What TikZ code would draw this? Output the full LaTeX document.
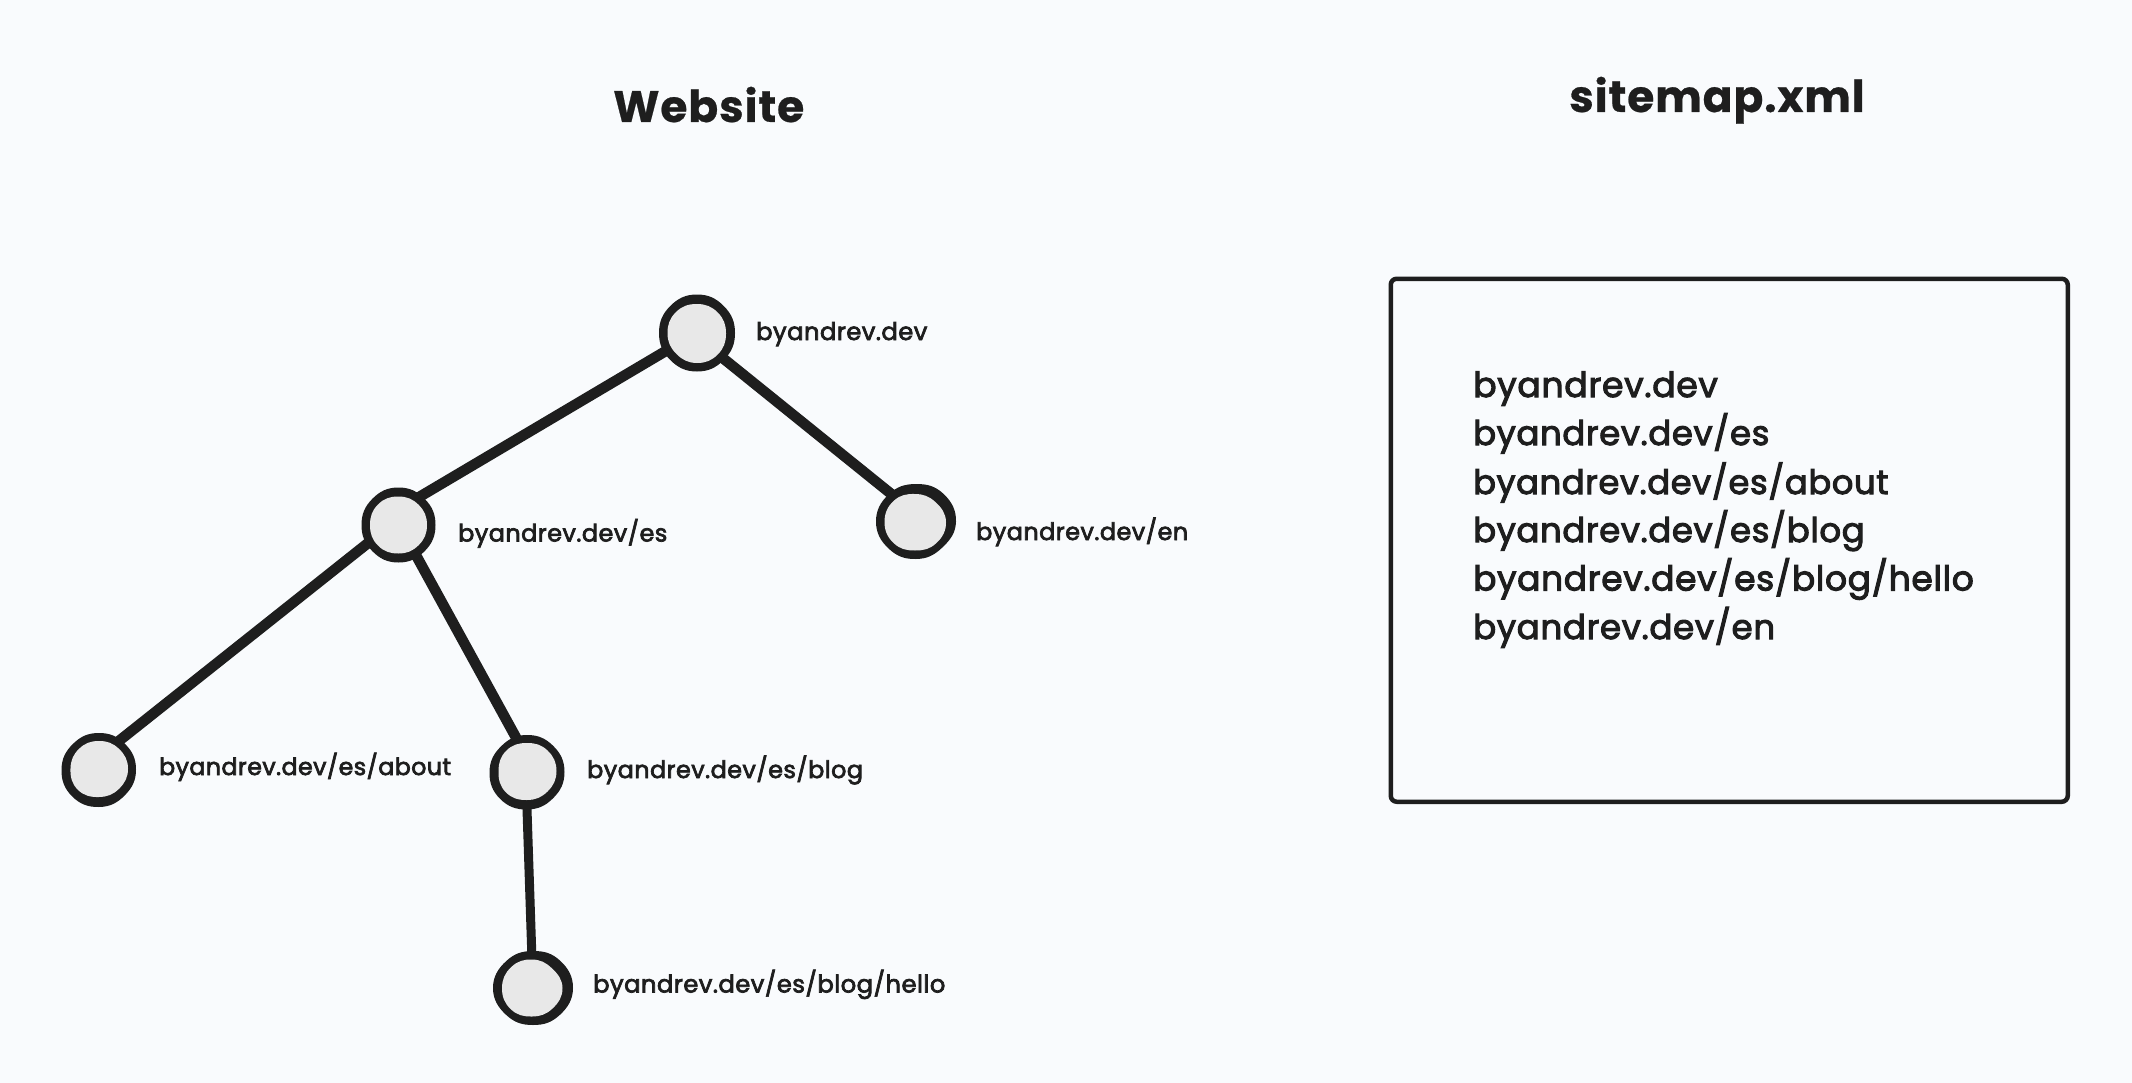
\documentclass[tikz,border=0pt]{standalone}
\usepackage{fontspec}
\setmainfont{Poppins}[LetterSpace=2.0,FakeBold=3]
\newfontfamily\headfont{Poppins}[LetterSpace=2.0,FakeBold=0.5]
\definecolor{ink}{HTML}{1E1E1E}
\definecolor{paper}{HTML}{F9FBFD}
\definecolor{dot}{HTML}{E8E8E8}
\tikzset{
  x=1pt,y=-1pt,
  site/.style={circle,minimum size=74pt,inner sep=0pt},
  link/.style={draw=ink,line width=10.5pt,shorten >=-4pt,shorten <=-4pt},
  thinlink/.style={link,line width=9pt},
  lab/.style={anchor=base west,inner sep=0pt,text=ink,font=\fontsize{#1}{27}\selectfont},
  lab/.default=24.2,
  maplab/.style={anchor=base west,inner sep=0pt,text=ink,font=\fontsize{#1}{38}\selectfont},
  maplab/.default=34.2,
  head/.style={anchor=base west,inner sep=0pt,text=ink,font=\fontsize{44}{48}\selectfont\headfont\bfseries},
  panel/.style={draw=ink,line width=4.5pt,rounded corners=6pt}
}
% \ring{node}{outer contour}{inner offset}{inner contour}; angles run clockwise on screen
\newcommand\ring[4]{%
  \begin{scope}[shift={(#1)}]
    \path[fill=ink] plot[smooth cycle,tension=.75] coordinates {#2};
    \begin{scope}[shift={(#3)}]
      \path[fill=dot] plot[smooth cycle,tension=.75] coordinates {#4};
    \end{scope}
  \end{scope}}
\begin{document}
\begin{tikzpicture}
\useasboundingbox[fill=paper] (0,0) rectangle (2132,1083);
\node[head] (t1) at (613,122) {Website};
\node[head] (t2) at (1569,112) {sitemap.xml};
\node[site] (root) at (697,333) {};
\node[site] (es) at (398.5,525) {};
\node[site] (en) at (916,521.5) {};
\node[site] (about) at (99,769.5) {};
\node[site] (blog) at (527,772) {};
\node[site] (hello) at (533,988) {};
\path[link] (root.210) -- (es.52);
\path[link] (root.-44) -- (en.132);
\path[link] (es.211) -- (about.54);
\path[link] (es.-60) -- (blog.108);
\path[thinlink] (blog.-90) -- (hello.92);
\ring{root}{(0:38) (45:38) (90:38.5) (135:38) (180:38) (225:38) (270:38.5) (315:38)}
  {0,0.5}{(0:29) (45:29.5) (90:29.5) (135:29) (180:29.5) (225:30) (270:29.5) (315:29.5)}
\ring{es}{(0:37) (45:37) (90:37.5) (135:37) (180:37) (225:37) (270:37.5) (315:37)}
  {0,0}{(0:28.5) (45:28.5) (90:28.5) (135:29) (180:28.5) (225:29) (270:28.5) (315:28.5)}
\ring{en}{(0:40) (45:37) (90:37.5) (135:38.5) (180:40) (225:38.5) (270:37.5) (315:39)}
  {-1,0.5}{(0:31) (45:30) (90:28.5) (135:30) (180:30.5) (225:30) (270:28) (315:28.5)}
\ring{about}{(0:37) (45:36.5) (90:37.5) (135:38) (180:37.5) (225:36.5) (270:36.5) (315:36.5)}
  {0,-1}{(0:29) (45:28.5) (90:28.5) (135:30) (180:28.5) (225:28) (270:27.5) (315:28)}
\ring{blog}{(0:37.5) (45:37) (90:37.5) (135:38) (180:37.5) (225:36.5) (270:37) (315:37)}
  {0,-1}{(0:29.5) (45:29) (90:29) (135:30) (180:28.5) (225:29) (270:28) (315:29)}
\ring{hello}{(0:40) (45:38) (90:37) (135:38) (180:40) (225:38) (270:37) (315:38.5)}
  {-1,0}{(0:30.5) (45:29) (90:28.5) (135:30) (180:30) (225:29.5) (270:28.5) (315:28)}
\node[lab] (l1) at (756,340) {byandrev.dev};
\node[lab=23.9] (l2) at (458,541.5) {byandrev.dev/es};
\node[lab=23.9] (l3) at (976,540) {byandrev.dev/en};
\node[lab=23.65] (l4) at (159,775) {byandrev.dev/es/about};
\node[lab=23.85] (l5) at (587,778) {byandrev.dev/es/blog};
\node[lab] (l6) at (593,992.5) {byandrev.dev/es/blog/hello};
\node[panel,minimum width=677pt,minimum height=523pt,anchor=north west,inner sep=0pt] (box) at (1388.5,276.5) {};
\node[maplab=34.6] (m1) at (1473,397) {byandrev.dev};
\node[maplab=33.85] (m2) at (1473,445) {byandrev.dev/es};
\node[maplab=33.65] (m3) at (1473,494) {byandrev.dev/es/about};
\node[maplab=33.85] (m4) at (1473,542) {byandrev.dev/es/blog};
\node[maplab=34.4] (m5) at (1473,590.5) {byandrev.dev/es/blog/hello};
\node[maplab=34.05] (m6) at (1473,639) {byandrev.dev/en};
\end{tikzpicture}
\end{document}
